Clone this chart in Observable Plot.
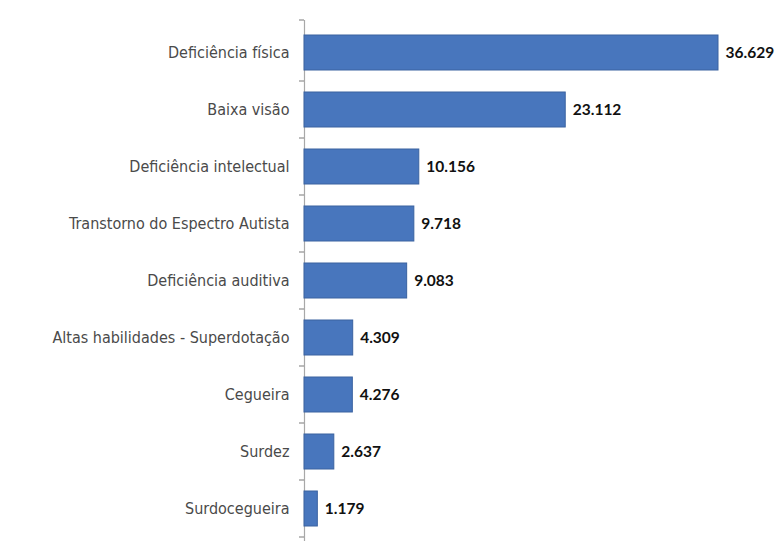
<!DOCTYPE html>
<html>
<head>
<meta charset="utf-8">
<script src="https://cdn.jsdelivr.net/npm/d3@7"></script>
<script src="https://cdn.jsdelivr.net/npm/@observablehq/plot@0.6"></script>
<style>
  html, body { margin: 0; padding: 0; background: #ffffff; }
  #chart { width: 779px; height: 551px; }
</style>
</head>
<body>
<div id="chart"></div>
<script>
const categories = [
  "Deficiência física",
  "Baixa visão",
  "Deficiência intelectual",
  "Transtorno do Espectro Autista",
  "Deficiência auditiva",
  "Altas habilidades - Superdotação",
  "Cegueira",
  "Surdez",
  "Surdocegueira"
];
const values = [36629, 23112, 10156, 9718, 9083, 4309, 4276, 2637, 1179];

const data = categories.map((c, i) => ({category: c, value: values[i]}));
const fmt = d3.formatLocale({decimal: ",", thousands: ".", grouping: [3], currency: ["", ""]}).format(",");

const labelFont = "'DejaVu Sans Condensed', 'Liberation Sans Narrow', 'Liberation Sans', sans-serif";

const chart = Plot.plot({
  width: 779,
  height: 551,
  marginLeft: 304,
  marginRight: 61,
  marginTop: 20,
  marginBottom: 10,
  style: {background: "#ffffff", overflow: "visible"},
  x: {domain: [0, d3.max(values)], axis: null},
  y: {domain: categories, paddingInner: 0.38, paddingOuter: 0.19, label: null},
  marks: [
    Plot.axisY({
      tickSize: 0,
      tickPadding: 15,
      fontSize: 16,
      fill: "#4a4a4a",
      fontFamily: labelFont
    }),
    Plot.ruleX([0], {stroke: "#a8a8a8", strokeWidth: 1.2}),
    Plot.barX(data, {
      y: "category",
      x: "value",
      fill: "#4876bd",
      stroke: "#3a62a0",
      strokeWidth: 1
    }),
    Plot.text(data, {
      y: "category",
      x: "value",
      text: d => fmt(d.value),
      textAnchor: "start",
      dx: 7,
      fontSize: 15.5,
      fontWeight: "bold",
      fill: "#111111",
      fontFamily: "Lato, 'Open Sans', sans-serif"
    })
  ]
});
document.getElementById("chart").appendChild(chart);

// small tick dashes at the band boundaries, placed using the y scale
const yScale = chart.scale("y");
const step = yScale.step;
const svg = d3.select(chart);
const boundaries = [yScale.range[0]].concat(categories.map(c => yScale.apply(c) + yScale.bandwidth + (step - yScale.bandwidth) / 2));
svg.append("g")
  .selectAll("line")
  .data(boundaries)
  .join("line")
  .attr("x1", 299).attr("x2", 304)
  .attr("y1", d => d).attr("y2", d => d)
  .attr("stroke", "#909090")
  .attr("stroke-width", 1.2);
</script>
</body>
</html>
